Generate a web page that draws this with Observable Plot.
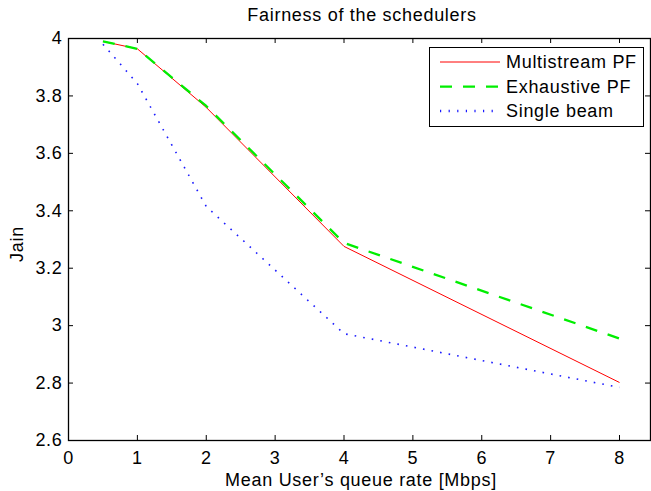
<!DOCTYPE html>
<html>
<head>
<meta charset="utf-8">
<script src="https://cdn.jsdelivr.net/npm/d3@7"></script>
<script src="https://cdn.jsdelivr.net/npm/@observablehq/plot@0.6"></script>
<style>
  html, body { margin: 0; padding: 0; background: #fff; }
  #chart svg { display: block; }
</style>
</head>
<body>
<div id="chart"></div>
<script>
// ---- data ----
const rates = [0.5, 1, 2, 4, 8];
const multistreamPF = [3.99, 3.964, 3.76, 3.276, 2.802];
const exhaustivePF = [3.99, 3.964, 3.765, 3.288, 2.955];
const singleBeam = [3.98, 3.843, 3.415, 2.972, 2.785];
const seriesNames = ["Multistream PF", "Exhaustive PF", "Single beam"];
const xTicks = [0, 1, 2, 3, 4, 5, 6, 7, 8];
const yTicks = [2.6, 2.8, 3, 3.2, 3.4, 3.6, 3.8, 4];
const titleText = "Fairness of the schedulers";
const xLabelText = "Mean User\u2019s queue rate [Mbps]";
const yLabelText = "Jain";

// ---- styles ----
const seriesStyles = [
  { stroke: "#ff0000", strokeWidth: 1, dash: null },
  { stroke: "#00ee00", strokeWidth: 2.3, dash: "12,11" },
  { stroke: "#1a1aff", strokeWidth: 1.6, dash: "1.6,7.1" }
];
const W = 651, H = 491, mL = 68, mR = 1, mT = 38, mB = 51;
const fw = W - mL - mR, fh = H - mT - mB;
const tickLen = 5;
const font = "'Liberation Sans', Arial, Helvetica, sans-serif";

const seriesValues = [multistreamPF, exhaustivePF, singleBeam];
const rows = seriesNames.map((name, i) => rates.map((x, j) => ({ series: name, x, y: seriesValues[i][j] })));

const chart = Plot.plot({
  width: W, height: H,
  marginLeft: mL, marginRight: mR, marginTop: mT, marginBottom: mB,
  style: { fontFamily: font, fontSize: "18px", letterSpacing: "0.7px", background: "white", color: "black", overflow: "visible" },
  x: { domain: [0, 8.45] },
  y: { domain: [2.6, 4] },
  marks: [
    ...rows.map((r, i) => Plot.line(r, {
      x: "x", y: "y",
      stroke: seriesStyles[i].stroke,
      strokeWidth: seriesStyles[i].strokeWidth,
      strokeDasharray: seriesStyles[i].dash,
      strokeLinecap: "butt"
    })),
    Plot.tickX(xTicks, { x: d => d, insetTop: fh - tickLen, stroke: "black" }),
    Plot.tickX(xTicks, { x: d => d, insetBottom: fh - tickLen, stroke: "black" }),
    Plot.tickY(yTicks, { y: d => d, insetRight: fw - tickLen, stroke: "black" }),
    Plot.tickY(yTicks, { y: d => d, insetLeft: fw - tickLen, stroke: "black" }),
    Plot.axisX(xTicks, { tickSize: 0, tickPadding: 11, label: null, tickFormat: d => String(d) }),
    Plot.axisY(yTicks, { tickSize: 0, tickPadding: 6, label: null, tickFormat: d => String(d) }),
    Plot.frame({ stroke: "black", strokeWidth: 1.3 })
  ]
});

const svg = d3.select(chart);
// title
svg.append("text")
  .attr("x", 362).attr("y", 20.5)
  .attr("text-anchor", "middle")
  .attr("font-size", 18)
  .attr("fill", "black")
  .text(titleText);
// x label
svg.append("text")
  .attr("x", 361).attr("y", 486)
  .attr("text-anchor", "middle")
  .attr("font-size", 18)
  .attr("fill", "black")
  .text(xLabelText);
// y label
svg.append("text")
  .attr("transform", "translate(23,244) rotate(-90)")
  .attr("text-anchor", "middle")
  .attr("font-size", 18)
  .attr("fill", "black")
  .text(yLabelText);

// legend
const lg = svg.append("g");
lg.append("rect")
  .attr("x", 429.5).attr("y", 47.5).attr("width", 214).attr("height", 79)
  .attr("fill", "white").attr("stroke", "black").attr("stroke-width", 1);
const rowY = [62, 86.7, 111];
seriesNames.forEach((name, i) => {
  const st = seriesStyles[i];
  lg.append("line")
    .attr("x1", 440).attr("x2", 500)
    .attr("y1", rowY[i]).attr("y2", rowY[i])
    .attr("stroke", st.stroke)
    .attr("stroke-width", i === 2 ? 2.5 : st.strokeWidth)
    .attr("stroke-dasharray", i === 2 ? "1.2,7.4" : st.dash);
  lg.append("text")
    .attr("x", 506).attr("y", rowY[i] + 6.3)
    .attr("text-anchor", "start")
    .attr("font-size", 18)
    .attr("fill", "black")
    .text(name);
});

document.getElementById("chart").appendChild(chart);
</script>
</body>
</html>
